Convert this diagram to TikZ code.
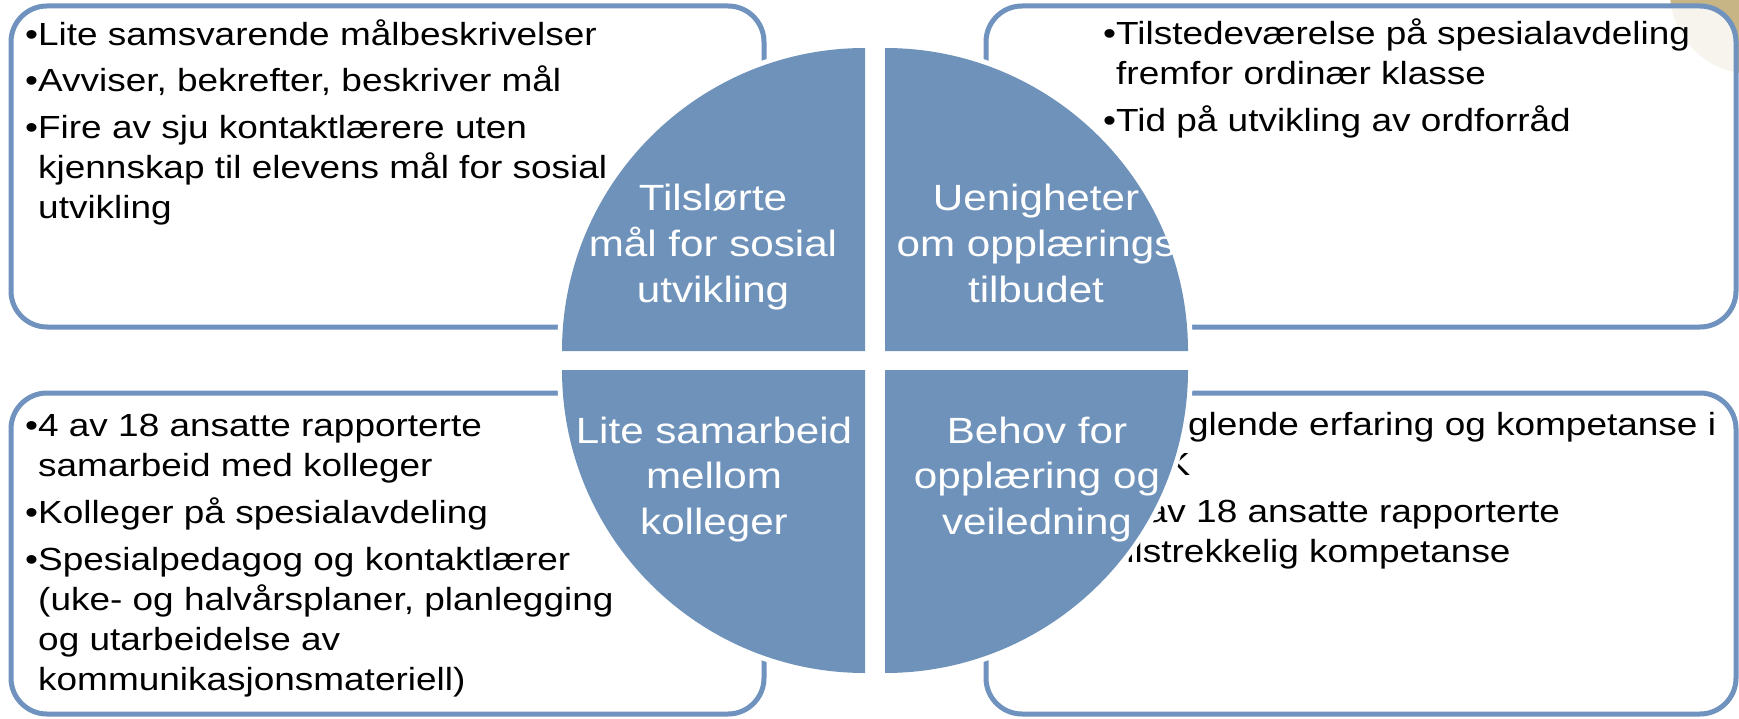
\documentclass[tikz,border=0pt]{standalone}
\usepackage{fontspec}
\setmainfont{Liberation Sans}[FakeStretch=1.155]
\definecolor{qblue}{RGB}{111,146,187}
\definecolor{bline}{RGB}{111,146,190}
\definecolor{decotan}{RGB}{199,181,133}
\begin{document}
\begin{tikzpicture}[x=1pt,y=-1pt,
  box/.style={draw=bline, line width=5pt, rounded corners=36pt, fill=white, fill opacity=0.86},
  body/.style={anchor=base west, inner sep=0pt, font=\fontsize{32}{40}\selectfont},
  lab/.style={anchor=base, inner sep=0pt, text=white, font=\fontsize{36.5}{45.5}\selectfont},
  quad/.style={fill=qblue, preaction={draw=white, line width=10pt, line join=round}}
]
\fill[white] (0,0) rectangle (1739,719);
\useasboundingbox (0,0) rectangle (1739,719);
\begin{scope}
  \clip (0,0) rectangle (1739,719);
  \fill[decotan] (1752,-8) circle[radius=82];
\end{scope}

% boxes
\draw[box] (11,6) rectangle (764,327);
\draw[box] (986,6) rectangle (1736,327);
\draw[box] (11,393) rectangle (764,714);
\draw[box] (986,393) rectangle (1736,714);

% top-left text
\node[body] (tl1) at (25,45.5) {•Lite samsvarende målbeskrivelser};
\node[body] (tl2) at (25,92) {•Avviser, bekrefter, beskriver mål};
\node[body] (tl3) at (25,138.5) {•Fire av sju kontaktlærere uten};
\node[body] (tl4) at (38,178.5) {kjennskap til elevens mål for sosial};
\node[body] (tl5) at (38,218.5) {utvikling};

% top-right text
\node[body] (tr1) at (1103,45) {•Tilstedeværelse på spesialavdeling};
\node[body] (tr2) at (1116,85) {fremfor ordinær klasse};
\node[body] (tr3) at (1103,132) {•Tid på utvikling av ordforråd};

% bottom-left text
\node[body] (bl1) at (25,436) {•4 av 18 ansatte rapporterte};
\node[body] (bl2) at (38,476) {samarbeid med kolleger};
\node[body] (bl3) at (25,523) {•Kolleger på spesialavdeling};
\node[body] (bl4) at (25,570) {•Spesialpedagog og kontaktlærer};
\node[body] (bl5) at (38,610) {(uke- og halvårsplaner, planlegging};
\node[body] (bl6) at (38,650) {og utarbeidelse av};
\node[body] (bl7) at (38,690) {kommunikasjonsmateriell)};

% bottom-right text (partly hidden behind the circle)
\node[body] (br1) at (1103,435) {•Manglende erfaring og kompetanse i};
\node[body] (br2) at (1116,475) {ASK};
\node[body] (br3) at (1103,522) {•4 av 18 ansatte rapporterte};
\node[body] (br4) at (1116,562) {tilstrekkelig kompetanse};

% circle quadrants
\path[quad] (865,351) -- ++(-303,0) arc[start angle=180, end angle=270, radius=303] -- cycle;
\path[quad] (885,351) -- ++(0,-303) arc[start angle=270, end angle=360, radius=303] -- cycle;
\path[quad] (865,370) -- ++(-303,0) arc[start angle=180, end angle=90, radius=303] -- cycle;
\path[quad] (885,370) -- ++(303,0) arc[start angle=0, end angle=90, radius=303] -- cycle;

% quadrant labels
\node[lab] (qa1) at (713,211) {Tilslørte};
\node[lab] (qa2) at (713,256.5) {mål for sosial};
\node[lab] (qa3) at (713,302) {utvikling};
\node[lab] (qb1) at (1036,211) {Uenigheter};
\node[lab] (qb2) at (1036,256.5) {om opplærings};
\node[lab] (qb3) at (1036,302) {tilbudet};
\node[lab] (qc1) at (714,443) {Lite samarbeid};
\node[lab] (qc2) at (714,488.5) {mellom};
\node[lab] (qc3) at (714,534) {kolleger};
\node[lab] (qd1) at (1037,443) {Behov for};
\node[lab] (qd2) at (1037,488.5) {opplæring og};
\node[lab] (qd3) at (1037,534) {veiledning};
\end{tikzpicture}
\end{document}
